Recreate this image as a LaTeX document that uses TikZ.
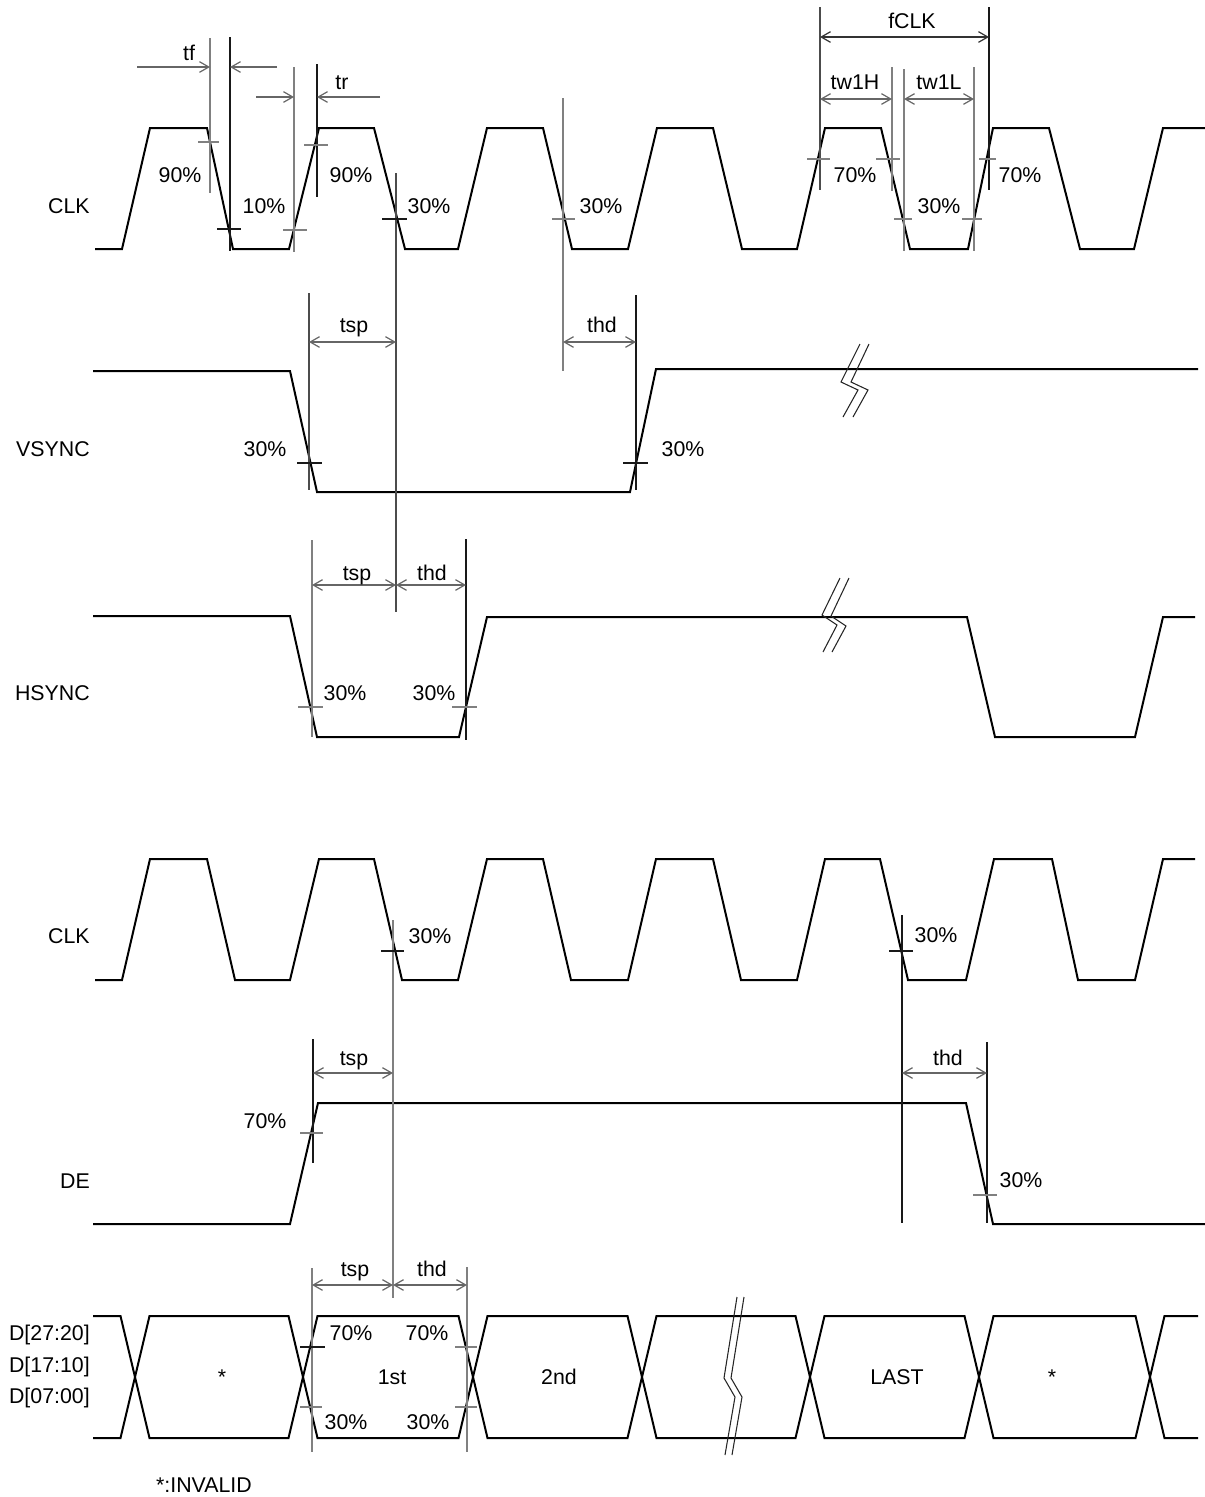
\documentclass[tikz,border=0pt]{standalone}
\usepackage{fontspec}
\setmainfont{Liberation Sans}
\usetikzlibrary{arrows.meta}
\begin{document}
\begin{tikzpicture}[x=0.75pt,y=-0.75pt,
  font=\fontsize{16}{19}\selectfont,
  >={Straight Barb[length=7pt,width=8pt]},
  sig/.style={line width=1.5pt,black},
  gref/.style={line width=0.9pt,black!50},
  mref/.style={line width=0.9pt,black!70},
  bref/.style={line width=0.9pt,black!90},
  gtick/.style={line width=0.9pt,black!50},
  btick/.style={line width=0.9pt,black!90},
  brk/.style={line width=0.8pt,black!85},
  dimarr/.style={line width=0.9pt,black!60,<->},
  onearr/.style={line width=0.9pt,black!60,->},
  lbl/.style={anchor=base,inner sep=0pt},
  lble/.style={anchor=base east,inner sep=0pt}]
\useasboundingbox (0,0) rectangle (1205,1497);

% ---------------- signals ----------------
\draw[sig] (95,249)--(122,249)--(150,128)--(207,128)--(233,249)--(289,249)--(319,128)--(374,128)--(405,249)--(458,249)--(487,128)--(543,128)--(572,249)--(628,249)--(657,128)--(713,128)--(742,249)--(797,249)--(825,128)--(881,128)--(910,249)--(968,249)--(993,128)--(1049,128)--(1080,249)--(1134,249)--(1163,128)--(1205,128);

\draw[sig] (93,371)--(290,371)--(317,492)--(630,492)--(656,369)--(1198,369);

\draw[sig] (93,616)--(290,616)--(317,737)--(459,737)--(487,617)--(967,617)--(995,737)--(1135,737)--(1163,617)--(1195,617);

\draw[sig] (95,980)--(122,980)--(150,859)--(207,859)--(235,980)--(290,980)--(319,859)--(374,859)--(402,980)--(458,980)--(487,859)--(543,859)--(571,980)--(628,980)--(656,859)--(713,859)--(741,980)--(797,980)--(825,859)--(880,859)--(908,980)--(966,980)--(994,859)--(1052,859)--(1078,980)--(1135,980)--(1163,859)--(1195,859);

\draw[sig] (93,1224)--(290,1224)--(318,1103)--(966,1103)--(993,1224)--(1205,1224);

\draw[sig] (93,1316)--(120.5,1316)--(149.5,1438)--(288.5,1438)--(317.5,1316)--(458.5,1316)--(487.5,1438)--(627.5,1438)--(656.5,1316)--(795.5,1316)--(824.5,1438)--(964.5,1438)--(993.5,1316)--(1135.5,1316)--(1164.5,1438)--(1198,1438);
\draw[sig] (93,1438)--(120.5,1438)--(149.5,1316)--(288.5,1316)--(317.5,1438)--(458.5,1438)--(487.5,1316)--(627.5,1316)--(656.5,1438)--(795.5,1438)--(824.5,1316)--(964.5,1316)--(993.5,1438)--(1135.5,1438)--(1164.5,1316)--(1198,1316);

% ---------------- break marks ----------------
\draw[brk] (860,344)--(841,382)--(858,390)--(843,417);
\draw[brk] (869,344)--(851,382)--(868,390)--(853,417);
\draw[brk] (840,578)--(822,615)--(837,625)--(823,652);
\draw[brk] (849,578)--(831,616)--(846,626)--(832,652);
\draw[brk] (737,1297)--(724,1378)--(735,1397)--(725,1455);
\draw[brk] (744,1297)--(731,1378)--(742,1397)--(732,1455);

% ---------------- reference lines ----------------
\draw[gref] (210,38)--(210,193);
\draw[bref] (230,37)--(230,251);
\draw[gref] (294,67)--(294,252);
\draw[bref] (317,64)--(317,197);
\draw[mref] (396,173)--(396,612);
\draw[gref] (563,98)--(563,371);
\draw[mref] (309,293)--(309,490);
\draw[bref] (636,295)--(636,490);
\draw[gref] (312,540)--(312,737);
\draw[bref] (466,539)--(466,740);
\draw[mref] (820,7)--(820,190);
\draw[bref] (989,7)--(989,190);
\draw[gref] (892,67)--(892,191);
\draw[gref] (904,69)--(904,251);
\draw[gref] (974,67)--(974,251);
\draw[gref] (393,920)--(393,1298);
\draw[bref] (313,1039)--(313,1163);
\draw[bref] (902,915)--(902,1223);
\draw[bref] (987,1042)--(987,1223);
\draw[gref] (312,1268)--(312,1452);
\draw[gref] (467,1267)--(467,1452);

% ---------------- level ticks ----------------
\draw[gtick] (198,142)--(219,142);
\draw[btick] (217,229)--(241,229);
\draw[gtick] (283,230)--(307,230);
\draw[gtick] (304,145)--(328,145);
\draw[btick] (382,219)--(407,219);
\draw[gtick] (552,219)--(575,219);
\draw[gtick] (807,159)--(830,159);
\draw[gtick] (876,159)--(900,159);
\draw[gtick] (979,159)--(996,159);
\draw[gtick] (894,219)--(912,219);
\draw[gtick] (962,219)--(982,219);
\draw[btick] (297,463)--(322,463);
\draw[btick] (623,463)--(648,463);
\draw[gtick] (298,707)--(323,707);
\draw[gtick] (452,707)--(477,707);
\draw[btick] (381,951)--(404,951);
\draw[btick] (889,951)--(913,951);
\draw[gtick] (300,1133)--(323,1133);
\draw[gtick] (973,1195)--(997,1195);
\draw[btick] (300,1347)--(325,1347);
\draw[gtick] (300,1407)--(322,1407);
\draw[gtick] (455,1347)--(477,1347);
\draw[gtick] (455,1407)--(477,1407);

% ---------------- dimension arrows ----------------
\draw[onearr] (137,67)--(210,67);
\draw[onearr] (277,67)--(230,67);
\draw[onearr] (256,97)--(294,97);
\draw[onearr] (380,97)--(317,97);
\draw[dimarr,black!80] (820,37)--(989,37);
\draw[dimarr] (820,99)--(892,99);
\draw[dimarr] (904,99)--(974,99);
\draw[dimarr] (309,342)--(396,342);
\draw[dimarr] (563,342)--(636,342);
\draw[dimarr] (312,585)--(396,585);
\draw[dimarr] (396,585)--(466,585);
\draw[dimarr] (313,1073)--(393,1073);
\draw[dimarr] (902,1073)--(987,1073);
\draw[dimarr] (312,1285)--(393,1285);
\draw[dimarr] (393,1285)--(467,1285);

% ---------------- labels ----------------
\node[lble] (lclk1) at (90,213) {CLK};
\node[lble] (lvs) at (90,456) {VSYNC};
\node[lble] (lhs) at (90,700) {HSYNC};
\node[lble] (lclk2) at (90,943) {CLK};
\node[lble] (lde) at (90,1188) {DE};
\node[lble] (ld1) at (90,1340) {D[27:20]};
\node[lble] (ld2) at (90,1372) {D[17:10]};
\node[lble] (ld3) at (90,1403) {D[07:00]};

\node[lbl] (ttf) at (189,60) {tf};
\node[lbl] (ttr) at (342,89) {tr};
\node[lbl] (tfclk) at (912,28) {fCLK};
\node[lbl] (ttwh) at (855,89) {tw1H};
\node[lbl] (ttwl) at (939,89) {tw1L};

\node[lbl] (p1) at (180,182) {90\%};
\node[lbl] (p2) at (264,213) {10\%};
\node[lbl] (p3) at (351,182) {90\%};
\node[lbl] (p4) at (429,213) {30\%};
\node[lbl] (p5) at (601,213) {30\%};
\node[lbl] (p6) at (855,182) {70\%};
\node[lbl] (p7) at (939,213) {30\%};
\node[lbl] (p8) at (1020,182) {70\%};

\node[lbl] (vtsp) at (354,332) {tsp};
\node[lbl] (vthd) at (602,332) {thd};
\node[lbl] (vp1) at (265,456) {30\%};
\node[lbl] (vp2) at (683,456) {30\%};

\node[lbl] (htsp) at (357,580) {tsp};
\node[lbl] (hthd) at (432,580) {thd};
\node[lbl] (hp1) at (345,700) {30\%};
\node[lbl] (hp2) at (434,700) {30\%};

\node[lbl] (cp1) at (430,943) {30\%};
\node[lbl] (cp2) at (936,942) {30\%};

\node[lbl] (dtsp) at (354,1065) {tsp};
\node[lbl] (dthd) at (948,1065) {thd};
\node[lbl] (dp1) at (265,1128) {70\%};
\node[lbl] (dp2) at (1021,1187) {30\%};

\node[lbl] (btsp) at (355,1276) {tsp};
\node[lbl] (bthd) at (432,1276) {thd};
\node[lbl] (bp1) at (351,1340) {70\%};
\node[lbl] (bp2) at (427,1340) {70\%};
\node[lbl] (bp3) at (346,1429) {30\%};
\node[lbl] (bp4) at (428,1429) {30\%};

\node[lbl] (s1) at (222,1384) {*};
\node[lbl] (s2) at (392,1384) {1st};
\node[lbl] (s3) at (559,1384) {2nd};
\node[lbl] (s4) at (897,1384) {LAST};
\node[lbl] (s5) at (1052,1384) {*};
\node[lbl] (note) at (204,1492) {*:INVALID};
\end{tikzpicture}
\end{document}
